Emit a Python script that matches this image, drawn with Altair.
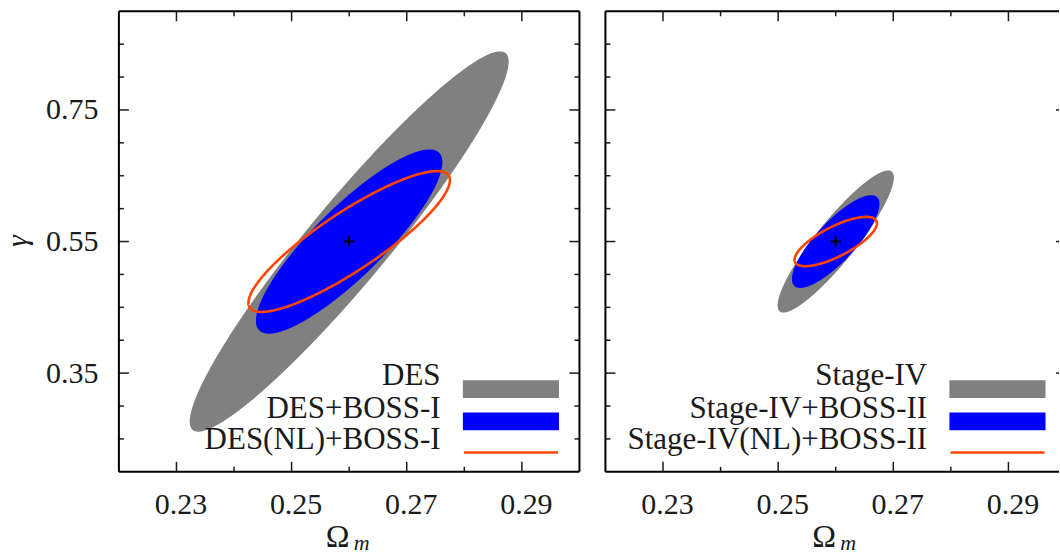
import numpy as np
import pandas as pd
import altair as alt

FONT = "Liberation Serif"
FS = 30
FS_LEG = 31
INK = "#1a1a1a"

# ---- data ----
names_left = ["DES", "DES+BOSS-I", "DES(NL)+BOSS-I"]
names_right = ["Stage-IV", "Stage-IV+BOSS-II", "Stage-IV(NL)+BOSS-II"]
center_x = [0.26, 0.26]          # fiducial Omega_m (left, right)
center_y = [0.55, 0.55]          # fiducial gamma
# half-extent of each contour along Omega_m, along gamma, and correlation
ext_x_left = [0.0277, 0.0162, 0.0175]
ext_y_left = [0.289, 0.140, 0.107]
corr_left = [0.946, 0.86, 0.87]
ext_x_right = [0.0101, 0.0076, 0.00715]
ext_y_right = [0.108, 0.0705, 0.0375]
corr_right = [0.90, 0.81, 0.74]
colors = ["#808080", "#0000ff", "#ff4500"]

x_major = [0.23, 0.25, 0.27, 0.29]
x_minor = [0.24, 0.26, 0.28]
y_major = [0.35, 0.55, 0.75]
y_minor = [0.25, 0.30, 0.40, 0.45, 0.50, 0.60, 0.65, 0.70, 0.80, 0.85]

H = 461
W_LEFT = 461
W_RIGHT = 454
PX_PER_UNIT = W_LEFT / 0.08


def area_df(cx, cy, ax, ay, r, n=700):
    t = np.linspace(0, np.pi, n)
    c, s = np.cos(t), np.sin(t)
    q = np.sqrt(1 - r * r)
    return pd.DataFrame({"om": cx + ax * c,
                         "g": cy + ay * (r * c + q * s),
                         "g2": cy + ay * (r * c - q * s)})


def line_df(cx, cy, ax, ay, r, n=700):
    t = np.linspace(0, 2 * np.pi, n)
    c, s = np.cos(t), np.sin(t)
    q = np.sqrt(1 - r * r)
    return pd.DataFrame({"om": cx + ax * c,
                         "g": cy + ay * (r * c + q * s),
                         "i": np.arange(n)})


def panel(names, ex, ey, rr, cx, cy, W, left):
    xmax = 0.22 + W / PX_PER_UNIT
    xs = alt.Scale(domain=[0.22, xmax], nice=False, zero=False)
    ys = alt.Scale(domain=[0.2, 0.9], nice=False, zero=False)
    xaxis = alt.Axis(values=x_major, format=".2f", labelFont=FONT, labelFontSize=FS,
                     labelColor=INK, ticks=False, domain=False, grid=False,
                     labelPadding=18, labelOffset=4, title=None, labelFlush=False)
    yaxis = alt.Axis(values=y_major, format=".2f", labelFont=FONT, labelFontSize=FS,
                     labelColor=INK, ticks=False, domain=False, grid=False,
                     labelPadding=21, title=None, labels=left)

    def X(f):
        return alt.X(f, scale=xs, axis=xaxis)

    def Y(f):
        return alt.Y(f, scale=ys, axis=yaxis)

    layers = []
    # filled contours
    for k in range(2):
        d = area_df(cx, cy, ex[k], ey[k], rr[k])
        layers.append(alt.Chart(d).mark_area(color=colors[k], opacity=1).encode(
            x=X("om:Q"), y=Y("g:Q"), y2="g2:Q"))
    # NL contour outline
    d = line_df(cx, cy, ex[2], ey[2], rr[2])
    layers.append(alt.Chart(d).mark_line(color=colors[2], strokeWidth=2.6).encode(
        x=X("om:Q"), y=Y("g:Q"), order="i:Q"))
    # fiducial point
    layers.append(alt.Chart(pd.DataFrame({"om": [cx], "g": [cy]})).mark_point(
        shape="M-1,0L1,0M0,-1L0,1", size=110, filled=False, color="black",
        strokeWidth=2, opacity=1).encode(x=X("om:Q"), y=Y("g:Q")))

    # inward ticks
    def yticks(vals, x0, x1):
        return alt.Chart(pd.DataFrame({"om": [cx] * len(vals), "g": vals})).mark_rule(
            color=INK, strokeWidth=1.5).encode(
            y=Y("g:Q"), x=alt.value(x0), x2=alt.value(x1))

    def xticks(vals, y0, y1):
        return alt.Chart(pd.DataFrame({"om": vals, "g": [cy] * len(vals)})).mark_rule(
            color=INK, strokeWidth=1.5).encode(
            x=X("om:Q"), y=alt.value(y0), y2=alt.value(y1))

    layers += [yticks(y_major, 0, 10), yticks(y_minor, 0, 5),
               xticks(x_major, H - 10, H), xticks(x_minor, H - 5, H),
               xticks(x_major, 0, 10), xticks(x_minor, 0, 5)]
    if left:
        layers += [yticks(y_major, W - 10, W), yticks(y_minor, W - 5, W)]
    else:
        layers += [yticks(y_major, W - 3, W)]

    one = pd.DataFrame({"a": [0]})
    frame = alt.Chart(one).mark_rule(color="black", strokeWidth=2)
    layers += [
        frame.encode(x=alt.value(0), x2=alt.value(W), y=alt.value(0)),
        frame.encode(x=alt.value(0), x2=alt.value(W), y=alt.value(H)),
        frame.encode(x=alt.value(0), y=alt.value(0), y2=alt.value(H)),
    ]
    if left:
        layers.append(frame.encode(x=alt.value(W), y=alt.value(0), y2=alt.value(H)))

    # legend
    base_y = [385.3, 417.6, 449.3]
    base_y = [b - 10.7 for b in base_y]
    for k, name in enumerate(names):
        layers.append(alt.Chart(pd.DataFrame({"label": [name]})).mark_text(
            font=FONT, fontSize=FS_LEG, color=INK, align="right", baseline="alphabetic").encode(
            text="label:N", x=alt.value(322), y=alt.value(base_y[k])))
    layers.append(alt.Chart(one).mark_rect(color=colors[0]).encode(
        x=alt.value(344.3), x2=alt.value(440.5), y=alt.value(369.3), y2=alt.value(387)))
    layers.append(alt.Chart(one).mark_rect(color=colors[1]).encode(
        x=alt.value(344.3), x2=alt.value(440.5), y=alt.value(401.6), y2=alt.value(419.3)))
    layers.append(alt.Chart(one).mark_rule(color=colors[2], strokeWidth=2.4).encode(
        x=alt.value(345.5), x2=alt.value(439.5), y=alt.value(441.6)))

    # axis titles
    layers.append(alt.Chart(pd.DataFrame({"t": ["Ω"]})).mark_text(
        font=FONT, fontSize=32, color=INK, align="center", baseline="alphabetic").encode(
        text="t:N", x=alt.value(219), y=alt.value(H + 75)))
    layers.append(alt.Chart(pd.DataFrame({"t": ["m"]})).mark_text(
        font=FONT, fontSize=22, fontStyle="italic", color=INK, align="center",
        baseline="alphabetic").encode(text="t:N", x=alt.value(243), y=alt.value(H + 78)))
    if left:
        layers.append(alt.Chart(pd.DataFrame({"t": ["γ"]})).mark_text(
            font=FONT, fontSize=30, fontStyle="italic", color=INK, align="center",
            baseline="middle", angle=270).encode(
            text="t:N", x=alt.value(-101), y=alt.value(230)))

    return alt.layer(*layers).properties(width=W, height=H)


left_chart = panel(names_left, ext_x_left, ext_y_left, corr_left,
                   center_x[0], center_y[0], W_LEFT, True)
right_chart = panel(names_right, ext_x_right, ext_y_right, corr_right,
                    center_x[1], center_y[1], W_RIGHT, False)

chart = alt.hconcat(left_chart, right_chart, spacing=24).properties(
    padding={"left": 3, "top": 10, "right": 0, "bottom": 0},
    background="white",
).configure_view(stroke=None)

chart.save("out.html", embed_options={"renderer": "svg", "actions": False})
